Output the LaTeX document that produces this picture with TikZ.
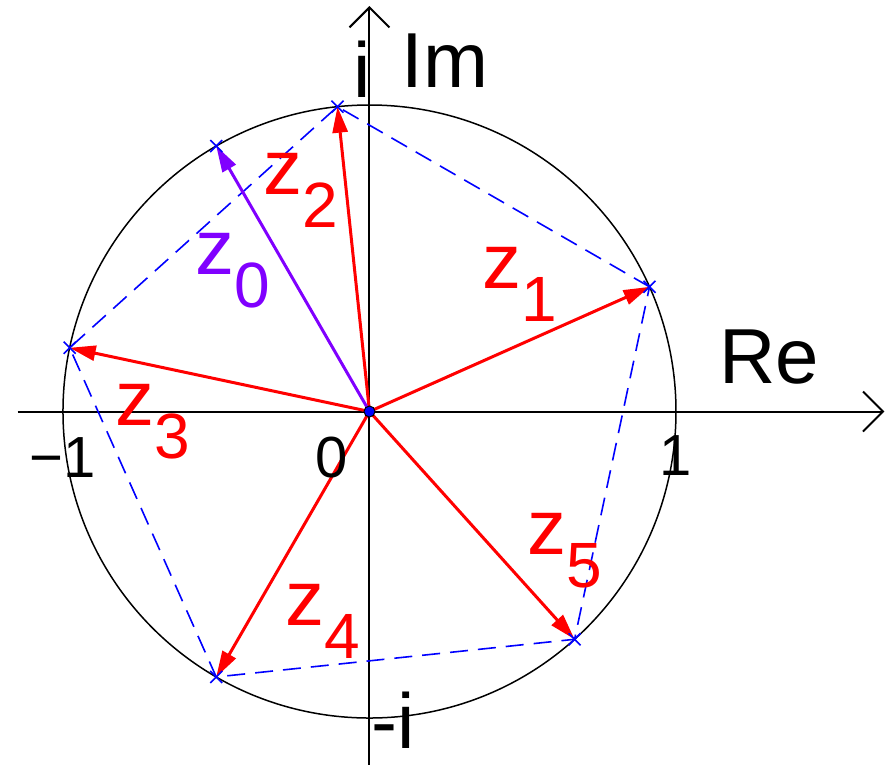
\documentclass[tikz,border=0pt]{standalone}
\usepackage{fontspec}
\setmainfont{Liberation Sans}
\usetikzlibrary{arrows.meta}
\definecolor{rootred}{RGB}{255,0,0}
\definecolor{rootblue}{RGB}{0,0,255}
\definecolor{basepurple}{RGB}{128,0,255}
\newcommand{\zlab}[1]{z\raisebox{-16.5pt}{\fontsize{32}{36}\selectfont #1}}

\begin{document}
\begin{tikzpicture}[x=5.386cm, y=5.386cm,
    axis/.style={line width=1pt, -{Straight Barb[length=10pt, width=20pt]}},
    root/.style={line width=1.5pt, rootred, -{Triangle[length=13pt, width=7.5pt]}},
    cross/.style={rootblue, line width=0.8pt},
    big/.style={font=\fontsize{39}{44}\selectfont, inner sep=0pt},
    tick/.style={font=\fontsize{29}{34}\selectfont, inner sep=0pt, anchor=base}]
    \useasboundingbox (-1.2055, -1.1501) rectangle (1.6982, 1.3426);

    % axes
    \coordinate (O) at (0, 0);
    \coordinate (xl) at (-1.148, 0);
    \coordinate (xr) at (1.680, 0);
    \coordinate (yb) at (0, -1.16);
    \coordinate (yt) at (0, 1.323);
    \draw[axis] (xl) -- (xr);
    \draw[axis] (yb) -- (yt);

    % unit circle
    \draw[line width=0.75pt] (O) circle (1);

    % z0 and its fifth roots
    \foreach \k/\a in {0/120, 1/24, 2/96, 3/168, 4/240, 5/312}
        \coordinate (z\k) at (\a:1);
    \draw[rootblue, line width=0.8pt, dash pattern=on 9pt off 5pt] (z1) -- (z2) -- (z3) -- (z4) -- (z5) -- cycle;
    \foreach \k in {1,...,5}
        \draw[root] (O) -- (z\k);
    \draw[root, basepurple] (O) -- (z0);
    \foreach \k in {0,...,5}
        \draw[cross] ([shift={(-3pt,-3pt)}]z\k) -- ([shift={(3pt,3pt)}]z\k)
                     ([shift={(-3pt,3pt)}]z\k) -- ([shift={(3pt,-3pt)}]z\k);
    \node[circle, fill=rootblue, draw=black, line width=0.5pt, minimum size=5.5pt, inner sep=0pt] (o) at (O) {};

    % labels of the roots
    \node[big, anchor=base west, basepurple] (lz0) at (-0.5693, 0.4454) {\zlab{0}};
    \node[big, anchor=base west, rootred] (lz1) at (0.3670, 0.3997) {\zlab{1}};
    \node[big, anchor=base west, rootred] (lz2) at (-0.3475, 0.7096) {\zlab{2}};
    \node[big, anchor=base west, rootred] (lz3) at (-0.8303, -0.0440) {\zlab{3}};
    \node[big, anchor=base west, rootred] (lz4) at (-0.2757, -0.6966) {\zlab{4}};
    \node[big, anchor=base west, rootred] (lz5) at (0.5155, -0.4649) {\zlab{5}};

    % axis labels
    \node[big, anchor=base] (re) at (1.3034, 0.0930) {Re};
    \node[big, anchor=base] (im) at (0.2463, 1.0555) {Im};
    \node[big, anchor=base] (iu) at (-0.0245, 1.0261) {i};
    \node[big, anchor=base] (mi) at (0.0767, -1.0979) {-i};
    \node[tick] (one) at (1.0, -0.2072) {1};
    \node[tick] (mone) at (-1.0, -0.2137) {−1};
    \node[tick] (zero) at (-0.1223, -0.2137) {0};
\end{tikzpicture}
\end{document}
